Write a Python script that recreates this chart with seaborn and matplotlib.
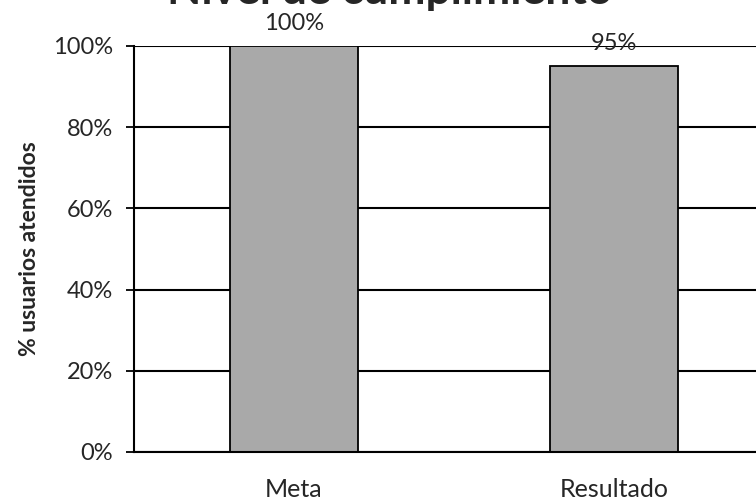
import matplotlib.pyplot as plt
import seaborn as sns
import pandas as pd
from matplotlib.ticker import PercentFormatter

# data
categories = ["Meta", "Resultado"]
values = [1.00, 0.95]
value_labels = ["100%", "95%"]

df = pd.DataFrame({"categoria": categories, "valor": values})

sns.set_style("white")
plt.rcParams["font.family"] = ["Lato", "DejaVu Sans"]

fig = plt.figure(figsize=(7.56, 5), dpi=100)
ax = fig.add_axes([0.177, 0.096, 0.847, 0.812])

sns.barplot(data=df, x="categoria", y="valor", color="#a9a9a9",
            edgecolor="black", linewidth=1.3, width=0.4, saturation=1, ax=ax)

ax.set_ylim(0, 1)
ax.set_xlim(-0.5, 1.5)
ax.yaxis.set_major_formatter(PercentFormatter(1.0, decimals=0))
ax.set_yticks([0, 0.2, 0.4, 0.6, 0.8, 1.0])

ax.set_axisbelow(True)
ax.yaxis.grid(True, color="black", linewidth=1.5)
ax.tick_params(axis="y", which="major", left=True, length=6, width=1.3,
               color="black", labelsize=17, pad=9)
ax.tick_params(axis="x", bottom=False, labelsize=18, pad=15)

for side in ["top", "right"]:
    ax.spines[side].set_visible(False)
ax.spines["left"].set_color("black")
ax.spines["left"].set_linewidth(1.5)
ax.spines["bottom"].set_color("black")
ax.spines["bottom"].set_linewidth(1.5)

ax.bar_label(ax.containers[0], labels=value_labels, padding=9, fontsize=17)

ax.set_xlabel("")
ax.set_ylabel("% usuarios atendidos", fontsize=16.5, fontweight="bold", labelpad=9)

fig.text(0.515, 1 - 4 / 500, "Nivel de cumplimiento", ha="center", va="baseline",
         fontsize=32, fontweight="bold")

fig.savefig("out.png", dpi=100)
